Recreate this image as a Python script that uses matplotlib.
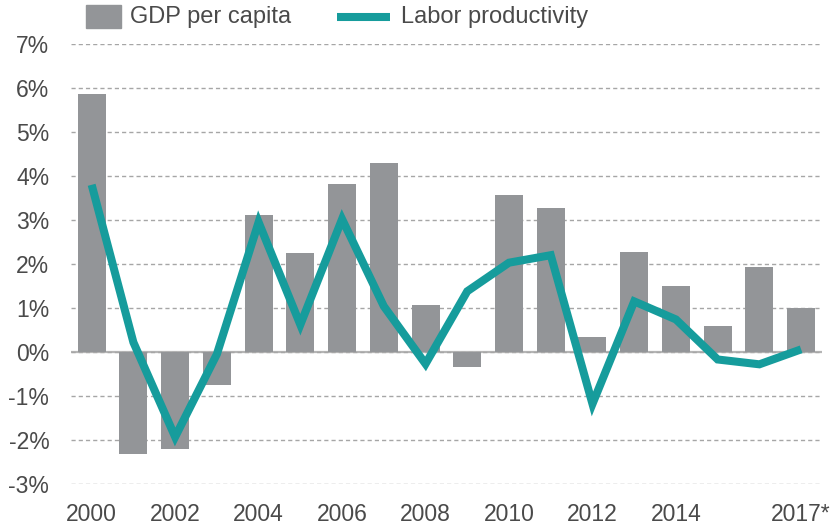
import matplotlib
matplotlib.use("Agg")
import matplotlib.pyplot as plt
from matplotlib.patches import Rectangle
from matplotlib.lines import Line2D
from matplotlib.ticker import FuncFormatter

plt.rcParams['font.family'] = ['Liberation Sans', 'DejaVu Sans']

years = ["2000", "2001", "2002", "2003", "2004", "2005", "2006", "2007", "2008",
         "2009", "2010", "2011", "2012", "2013", "2014", "2015", "2016", "2017*"]
gdp_per_capita = [5.86, -2.31, -2.20, -0.75, 3.12, 2.24, 3.81, 4.30, 1.06,
                  -0.34, 3.56, 3.28, 0.33, 2.28, 1.51, 0.60, 1.94, 1.00]
labor_productivity = [3.80, 0.22, -1.93, -0.05, 2.95, 0.62, 3.02, 1.04, -0.27,
                      1.38, 2.03, 2.20, -1.18, 1.15, 0.74, -0.17, -0.28, 0.06]
labeled_years = ["2000", "2002", "2004", "2006", "2008", "2010", "2012", "2014", "2017*"]

BAR = "#939598"
TEAL = "#169c9c"
TEXT = "#4a4a4a"
W, H = 835, 525

fig = plt.figure(figsize=(W / 100, H / 100), dpi=100)
ax = fig.add_axes([70.8 / W, 1 - 484 / H, (822 - 70.8) / W, (484 - 44) / H])

x = list(range(len(years)))
ax.bar(x, gdp_per_capita, width=0.67, color=BAR, zorder=2)
ax.plot(x, labor_productivity, color=TEAL, lw=5.8, zorder=3,
        solid_capstyle="butt", solid_joinstyle="miter")

ax.set_xlim(-0.5, len(years) - 0.5)
ax.set_ylim(-3, 7)
ax.set_yticks(range(-3, 8))
ax.yaxis.set_major_formatter(FuncFormatter(lambda v, p: f"{int(round(v))}%"))
ax.set_xticks([years.index(y) for y in labeled_years])
ax.set_xticklabels(labeled_years)

ax.grid(axis="y", color="#a6a6a6", linestyle=(0, (3, 2.2)), lw=1.0, zorder=0)
ax.axhline(0, color="#b5b5b5", lw=1.6, zorder=1)
for s in ax.spines.values():
    s.set_visible(False)
ax.tick_params(axis="both", length=0, labelsize=16.5, colors=TEXT)
ax.tick_params(axis="y", pad=15.5)
ax.tick_params(axis="x", pad=14)

# legend
def fx(px):
    return px / W

def fy(py):
    return 1 - py / H

fig.add_artist(Rectangle((fx(86), fy(28)), fx(121) - fx(86), fy(5) - fy(28),
                         transform=fig.transFigure, color=BAR))
fig.text(fx(130), fy(17.5), "GDP per capita", fontsize=17, color=TEXT,
         va="center", ha="left")
fig.add_artist(Line2D([fx(337), fx(390)], [fy(17), fy(17)],
                      transform=fig.transFigure, color=TEAL, lw=5.8,
                      solid_capstyle="butt"))
fig.text(fx(401), fy(17.5), "Labor productivity", fontsize=17, color=TEXT,
         va="center", ha="left")

fig.savefig("out.png", dpi=100)
